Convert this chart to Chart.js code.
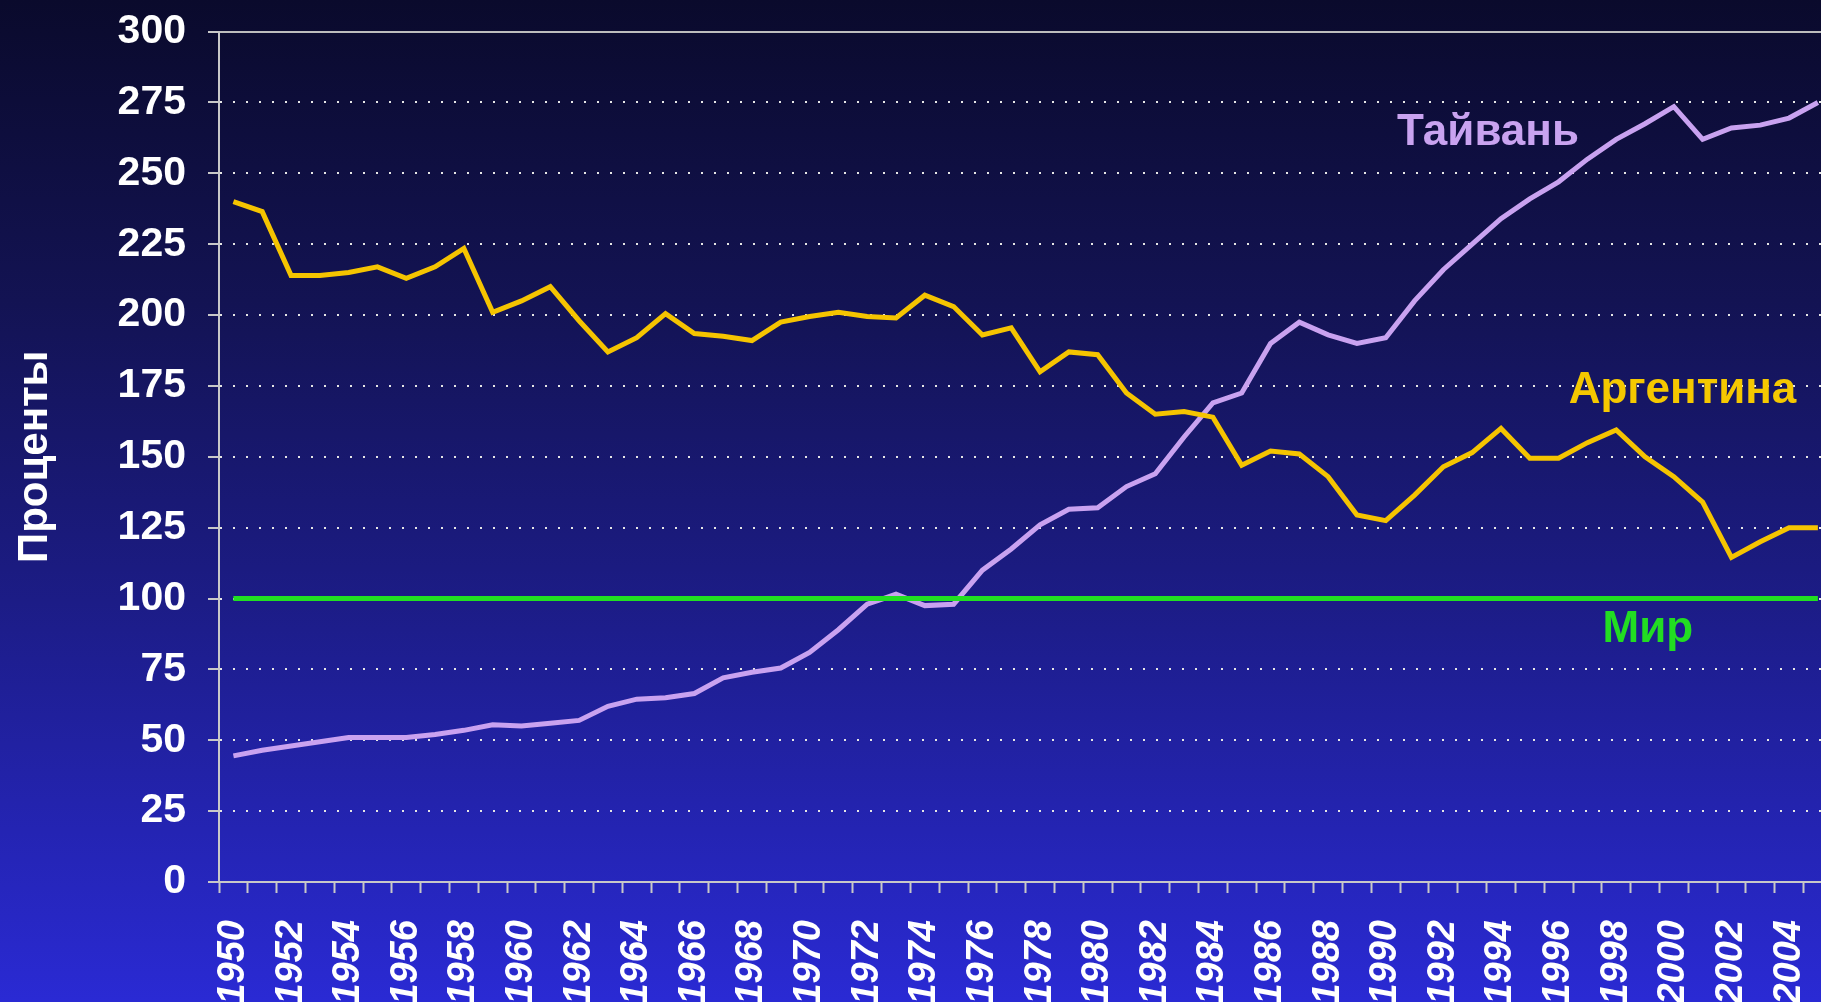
<!DOCTYPE html>
<html lang="ru">
<head>
<meta charset="utf-8">
<title>Проценты</title>
<script src="https://cdn.jsdelivr.net/npm/chart.js@4.4.1/dist/chart.umd.min.js"></script>
<style>
  html, body {
    margin: 0;
    padding: 0;
    width: 1821px;
    height: 1002px;
    overflow: hidden;
    background: linear-gradient(180deg, #0a0a2c 0%, #131353 30%, #1c1c86 60%, #2a2ad4 100%);
  }
  /* canvas is a bit larger than the window: the plot runs past the right edge like the original */
  .chart_box {
    position: relative;
    top: -15px;
    width: 1891px;
    height: 1017px;
  }
</style>
</head>
<body>
<div class="chart_box">
  <canvas id="line_chart"></canvas>
</div>
<script>
const years = [
  "1950", "1951", "1952", "1953", "1954", "1955", "1956", "1957", "1958", "1959",
  "1960", "1961", "1962", "1963", "1964", "1965", "1966", "1967", "1968", "1969",
  "1970", "1971", "1972", "1973", "1974", "1975", "1976", "1977", "1978", "1979",
  "1980", "1981", "1982", "1983", "1984", "1985", "1986", "1987", "1988", "1989",
  "1990", "1991", "1992", "1993", "1994", "1995", "1996", "1997", "1998", "1999",
  "2000", "2001", "2002", "2003", "2004", "2005"
];

const argentina = [
  240, 236.5, 214, 214, 215, 217, 213, 217, 223.5, 201,
  205, 210, 198, 187, 192, 200.5, 193.5, 192.5, 191, 197.5,
  199.5, 201, 199.5, 199, 207, 203, 193, 195.5, 180, 187,
  186, 172.5, 165, 166, 164, 147, 152, 151, 143, 129.5,
  127.5, 136.5, 146.5, 151.5, 160, 149.5, 149.5, 155, 159.5, 150,
  143, 134, 114.5, 120, 125, 125
];

const taiwan = [
  44.5, 46.5, 48, 49.5, 51, 51, 51, 52, 53.5, 55.5,
  55, 56, 57, 62, 64.5, 65, 66.5, 72, 74, 75.5,
  81, 89, 98, 101.5, 97.5, 98, 110, 117.5, 126, 131.5,
  132, 139.5, 144, 157, 169, 172.5, 190, 197.5, 193, 190,
  192, 205, 216, 225, 234, 241, 247, 255, 262, 267.5,
  273.5, 262, 266, 267, 269.5, 275
];

const world = [
  100, 100, 100, 100, 100, 100, 100, 100, 100, 100,
  100, 100, 100, 100, 100, 100, 100, 100, 100, 100,
  100, 100, 100, 100, 100, 100, 100, 100, 100, 100,
  100, 100, 100, 100, 100, 100, 100, 100, 100, 100,
  100, 100, 100, 100, 100, 100, 100, 100, 100, 100,
  100, 100, 100, 100, 100, 100
];

const yTicks = [0, 25, 50, 75, 100, 125, 150, 175, 200, 225, 250, 275, 300];

// series names written next to the lines (x = category index, y = value at baseline)
const seriesNotes = [
  { text: "Тайвань", x: 43.55, y: 260, color: "#c9a3f0" },
  { text: "Аргентина", x: 50.3, y: 169, color: "#f5c800" },
  { text: "Мир", x: 49.1, y: 84.7, color: "#22dd22" },
];

const notesPlugin = {
  id: "seriesNotes",
  afterDatasetsDraw(chart) {
    const { ctx, scales } = chart;
    ctx.save();
    ctx.font = "bold 44px 'Liberation Sans', Arial, sans-serif";
    ctx.textAlign = "center";
    ctx.textBaseline = "alphabetic";
    seriesNotes.forEach((n) => {
      ctx.fillStyle = n.color;
      ctx.fillText(n.text, scales.x.getPixelForValue(n.x), scales.y.getPixelForValue(n.y));
    });
    ctx.restore();
  },
};

const ctx = document.getElementById("line_chart").getContext("2d");

let configuration = {
  type: "line",
  data: {
    labels: years,
    datasets: [
      {
        label: "Мир",
        data: world,
        borderColor: "#22e022",
        borderWidth: 5,
        pointRadius: 0,
      },
      {
        label: "Аргентина",
        data: argentina,
        borderColor: "#f5c400",
        borderWidth: 5,
        pointRadius: 0,
      },
      {
        label: "Тайвань",
        data: taiwan,
        borderColor: "#c9a2f0",
        borderWidth: 5,
        pointRadius: 0,
      },
    ],
  },
  options: {
    responsive: true,
    maintainAspectRatio: false,
    animation: false,
    layout: {
      padding: 0,
    },
    plugins: {
      legend: { display: false },
      tooltip: { enabled: false },
    },
    scales: {
      x: {
        offset: true,
        grid: {
          offset: true,
          drawOnChartArea: false,
          drawTicks: true,
          tickLength: 11,
          tickColor: "#c8c8c8",
          tickWidth: 2,
        },
        border: { color: "#c8c8c8", width: 2 },
        ticks: {
          autoSkip: false,
          minRotation: 90,
          maxRotation: 90,
          padding: 27,
          color: "#ffffff",
          font: { family: "'Liberation Sans', Arial, sans-serif", size: 38, weight: "bold", style: "italic" },
          callback: (v, i) => (i % 2 === 0 ? years[i] : ""),
        },
        afterFit: (scale) => {
          scale.height = 120;
        },
      },
      x2: {
        position: "top",
        offset: true,
        grid: { display: false, drawTicks: false },
        ticks: { display: false },
        border: { color: "#bdbdbd", width: 2 },
        afterFit: (scale) => {
          scale.height = 0;
        },
      },
      y: {
        min: 0,
        max: 300,
        afterBuildTicks: (scale) => {
          scale.ticks = yTicks.map((v) => ({ value: v }));
        },
        grid: {
          color: "#e6e6e6",
          lineWidth: 2,
          drawTicks: true,
          tickLength: 11,
          tickColor: "#c8c8c8",
          tickWidth: 2,
        },
        border: { color: "#c8c8c8", width: 2, dash: [2, 11] },
        ticks: {
          padding: 22,
          color: "#ffffff",
          font: { family: "'Liberation Sans', Arial, sans-serif", size: 41, weight: "bold" },
        },
        title: {
          display: true,
          text: "Проценты",
          color: "#ffffff",
          padding: { top: 10, bottom: 0 },
          font: { family: "'Liberation Sans', Arial, sans-serif", size: 42, weight: "bold" },
        },
        afterFit: (scale) => {
          scale.width = 219;
        },
      },
    },
  },
  plugins: [notesPlugin],
};

let chart = new Chart(ctx, configuration);
</script>
</body>
</html>
